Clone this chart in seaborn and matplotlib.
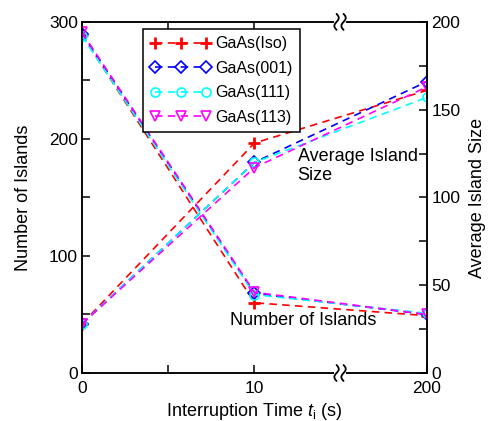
import numpy as np
import matplotlib
matplotlib.use("Agg")
import matplotlib.pyplot as plt
from matplotlib.ticker import MultipleLocator, FixedLocator, NullFormatter
import seaborn as sns

# --- data ---
times = [0, 10, 200]
samples = ["GaAs(Iso)", "GaAs(001)", "GaAs(111)", "GaAs(113)"]
colors = ["#ff0000", "#0000ff", "#00ffff", "#ff00ff"]
markers = ["+", "D", "o", "v"]

iso_islands = [289, 60, 49]
s001_islands = [290, 68, 50]
s111_islands = [288, 67, 51]
s113_islands = [291, 69, 50]

iso_size = [28, 131, 161]
s001_size = [28, 120, 166]
s111_size = [28, 120, 157]
s113_size = [28, 117, 163]

islands = [iso_islands, s001_islands, s111_islands, s113_islands]
sizes = [iso_size, s001_size, s111_size, s113_size]

sns.set_theme(style="white")
plt.rcParams["font.family"] = ["Liberation Sans", "DejaVu Sans"]
plt.rcParams["mathtext.fontset"] = "custom"
plt.rcParams["mathtext.rm"] = "Liberation Sans"
plt.rcParams["mathtext.it"] = "Liberation Sans:italic"
plt.rcParams.update({"text.color": "black", "axes.labelcolor": "black",
                     "xtick.color": "black", "ytick.color": "black"})


# broken x axis: 0..10 linear, then 10..200 squeezed into the same width
def fwd(t):
    t = np.asarray(t, dtype=float)
    return np.where(t <= 10, t / 10.0, 1 + (t - 10) / 190.0)


def inv(u):
    u = np.asarray(u, dtype=float)
    return np.where(u <= 1, u * 10.0, 10 + (u - 1) * 190.0)


fig = plt.figure(figsize=(4.88, 4.21), dpi=100)
ax = fig.add_axes([0.168, 0.114, 0.707, 0.834])
ax2 = ax.twinx()

dash = (0, (4.5, 3.2))
for name, col, mk, isl, sz in zip(samples, colors, markers, islands, sizes):
    mkw = dict(marker=mk, markersize=9 if mk == "+" else 6.5,
               markeredgewidth=2 if mk == "+" else 1.2,
               markeredgecolor=col, markerfacecolor="none")
    # islands go on ax2 (drawn on top), average size on ax
    sns.lineplot(x=times, y=isl, ax=ax2, color=col, linestyle=dash, lw=1.2,
                 label=name, legend=False, **mkw)
    sns.lineplot(x=times, y=sz, ax=ax, color=col, linestyle=dash, lw=1.2,
                 legend=False, **mkw)

# islands axis is on the left, size axis on the right
ax2.yaxis.tick_left()
ax2.yaxis.set_label_position("left")
ax.yaxis.tick_right()
ax.yaxis.set_label_position("right")

for a in (ax, ax2):
    a.set_xscale("function", functions=(fwd, inv))
    a.set_xlim(0, 200)
    a.grid(False)
    for s in a.spines.values():
        s.set_color("black")
        s.set_linewidth(1.1)

ax2.set_ylim(0, 300)
ax2.yaxis.set_major_locator(MultipleLocator(100))
ax2.yaxis.set_minor_locator(MultipleLocator(50))
ax.set_ylim(0, 200)
ax.yaxis.set_major_locator(MultipleLocator(50))
ax.yaxis.set_minor_locator(MultipleLocator(25))

ax.xaxis.set_major_locator(FixedLocator([0, 10, 200]))
ax.xaxis.set_minor_locator(FixedLocator([5]))
ax.xaxis.set_minor_formatter(NullFormatter())
ax.set_xticklabels(["0", "10", "200"])
ax2.xaxis.set_visible(False)

for a in (ax, ax2):
    a.tick_params(which="both", direction="in", length=6, width=1.1,
                  colors="black", labelsize=12.5, pad=3)
ax.tick_params(axis="x", which="both", top=True, bottom=True, pad=6)

ax2.set_ylabel("Number of Islands", fontsize=13, labelpad=12)
ax.set_ylabel("Average Island Size", fontsize=13, labelpad=6)
ax.set_xlabel(r"Interruption Time $\mathit{t}_{\mathrm{i}}$ (s)", fontsize=13, labelpad=3)

ax2.text(0.625, 0.64, "Average Island\nSize", transform=ax.transAxes,
         fontsize=13, va="top", ha="left", linespacing=1.1)
ax2.text(0.428, 0.15, "Number of Islands", transform=ax.transAxes,
         fontsize=13, va="center", ha="left")

# axis break marks on top and bottom spines
W, H = 345.0, 351.0
xb = 0.748
s = np.linspace(0, 1, 40)
for yb in (0.0, 1.0):
    ax2.plot([xb - 4 / W, xb + 4 / W], [yb, yb], color="white", lw=3,
             transform=ax.transAxes, clip_on=False, zorder=10)
    for off in (-3.5, 3.5):
        xs = xb + (off - 2.2 * np.sin(2 * np.pi * s)) / W
        ys = yb + (-8 + 16 * s) / H
        ax2.plot(xs, ys, color="black", lw=1.3, transform=ax.transAxes,
                 clip_on=False, zorder=11)

handles, labels = ax2.get_legend_handles_labels()
leg = ax2.legend(handles, labels, loc="upper left", bbox_to_anchor=(0.293, 0.931),
                 bbox_transform=fig.transFigure, borderaxespad=0, numpoints=3,
                 handlelength=3.8, fontsize=11.5, frameon=True, fancybox=False,
                 framealpha=1, edgecolor="black", borderpad=0.45, labelspacing=0.6,
                 handletextpad=0.3)
leg.get_frame().set_linewidth(1.1)

fig.savefig("out.png", dpi=100)
